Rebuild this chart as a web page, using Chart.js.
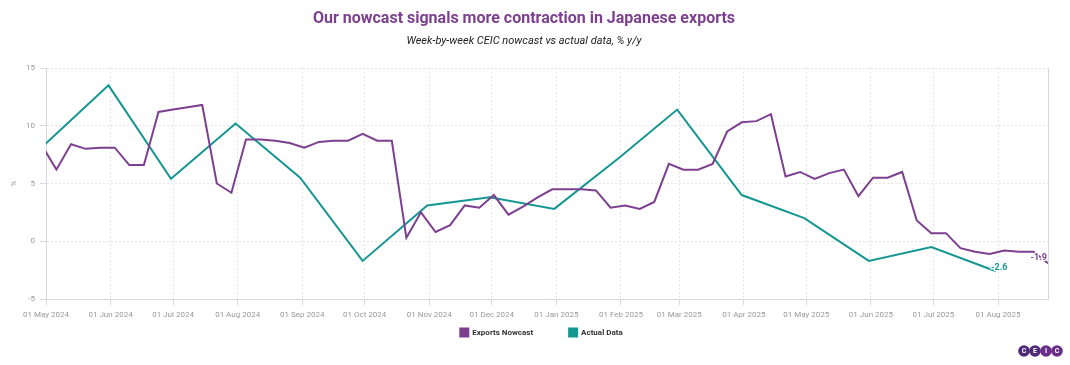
<!DOCTYPE html>
<html>
<head>
<meta charset="utf-8">
<script src="https://cdn.jsdelivr.net/npm/chart.js@4.4.1/dist/chart.umd.min.js"></script>
<style>
    html, body { margin: 0; padding: 0; background: #fff; }
    #wrap { width: 1070px; height: 365px; position: relative; }
</style>
</head>
<body>
<div id="wrap"><canvas id="exportsChart"></canvas></div>
<script>
// weekly nowcast (Mondays)
const nowcastDates = [
    '2024-04-29', '2024-05-06', '2024-05-13', '2024-05-20', '2024-05-27', '2024-06-03', '2024-06-10',
    '2024-06-17', '2024-06-24', '2024-07-01', '2024-07-08', '2024-07-15', '2024-07-22', '2024-07-29',
    '2024-08-05', '2024-08-12', '2024-08-19', '2024-08-26', '2024-09-02', '2024-09-09', '2024-09-16',
    '2024-09-23', '2024-09-30', '2024-10-07', '2024-10-14', '2024-10-21', '2024-10-28', '2024-11-04',
    '2024-11-11', '2024-11-18', '2024-11-25', '2024-12-02', '2024-12-09', '2024-12-16', '2024-12-23',
    '2024-12-30', '2025-01-06', '2025-01-13', '2025-01-20', '2025-01-27', '2025-02-03', '2025-02-10',
    '2025-02-17', '2025-02-24', '2025-03-03', '2025-03-10', '2025-03-17', '2025-03-24', '2025-03-31',
    '2025-04-07', '2025-04-14', '2025-04-21', '2025-04-28', '2025-05-05', '2025-05-12', '2025-05-19',
    '2025-05-26', '2025-06-02', '2025-06-09', '2025-06-16', '2025-06-23', '2025-06-30', '2025-07-07',
    '2025-07-14', '2025-07-21', '2025-07-28', '2025-08-04', '2025-08-11', '2025-08-18', '2025-08-25'
];
const nowcastValues = [
    8.3, 6.2, 8.4, 8.0, 8.1, 8.1, 6.6, 6.6, 11.2, 11.4,
    11.6, 11.8, 5.0, 4.2, 8.8, 8.8, 8.7, 8.5, 8.1, 8.6,
    8.7, 8.7, 9.3, 8.7, 8.7, 0.3, 2.5, 0.8, 1.4, 3.1,
    2.9, 4.0, 2.3, 3.0, 3.8, 4.5, 4.5, 4.5, 4.4, 2.9,
    3.1, 2.8, 3.4, 6.7, 6.2, 6.2, 6.7, 9.5, 10.3, 10.4,
    11.0, 5.6, 6.0, 5.4, 5.9, 6.2, 3.9, 5.5, 5.5, 6.0,
    1.8, 0.7, 0.7, -0.6, -0.9, -1.1, -0.8, -0.9, -0.9, -1.9
];

// monthly actual data (month end)
const actualDates = [
    '2024-04-30', '2024-05-31', '2024-06-30', '2024-07-31', '2024-08-31', '2024-09-30', '2024-10-31', '2024-11-30',
    '2024-12-31', '2025-01-31', '2025-02-28', '2025-03-31', '2025-04-30', '2025-05-31', '2025-06-30', '2025-07-31'
];
const actualValues = [8.3, 13.5, 5.4, 10.2, 5.5, -1.7, 3.1, 3.8, 2.8, 7.2, 11.4, 4.0, 2.0, -1.7, -0.5, -2.6];

const monthTicks = [
    '2024-05-01', '2024-06-01', '2024-07-01', '2024-08-01', '2024-09-01', '2024-10-01', '2024-11-01', '2024-12-01',
    '2025-01-01', '2025-02-01', '2025-03-01', '2025-04-01', '2025-05-01', '2025-06-01', '2025-07-01', '2025-08-01'
];
const monthNames = ['Jan', 'Feb', 'Mar', 'Apr', 'May', 'Jun', 'Jul', 'Aug', 'Sep', 'Oct', 'Nov', 'Dec'];

const PURPLE = '#7d3f8f';
const TEAL = '#149790';
const GRID = '#e6e6e6';
const AXIS = '#d5d8e0';
const TICK_TEXT = '#999999';

Chart.defaults.font.family = 'Roboto, "Open Sans", sans-serif';

function toPoints(dates, values) {
    return dates.map((d, i) => ({ x: Date.parse(d), y: values[i] }));
}

function formatTick(value) {
    const d = new Date(value);
    return '01 ' + monthNames[d.getUTCMonth()] + ' ' + d.getUTCFullYear();
}

// value label on last point of each series
const lastValueLabels = {
    id: 'lastValueLabels',
    afterDatasetsDraw(chart) {
        const ctx = chart.ctx;
        chart.data.datasets.forEach((ds, i) => {
            const meta = chart.getDatasetMeta(i);
            const pt = meta.data[meta.data.length - 1];
            const text = ds.data[ds.data.length - 1].y.toFixed(1);
            let x, y;
            ctx.save();
            ctx.font = 'bold 9px Roboto';
            ctx.textBaseline = 'middle';
            if (i === 0) {
                ctx.textAlign = 'right';
                x = pt.x - 1;
                y = pt.y - 5;
            } else {
                ctx.textAlign = 'left';
                x = pt.x - 5;
                y = pt.y - 4;
            }
            ctx.lineWidth = 2.5;
            ctx.strokeStyle = '#ffffff';
            ctx.strokeText(text, x, y);
            ctx.fillStyle = ds.borderColor;
            ctx.fillText(text, x, y);
            ctx.restore();
        });
    }
};

// right frame line + logo
const frameAndLogo = {
    id: 'frameAndLogo',
    afterDraw(chart) {
        const { ctx, chartArea } = chart;
        ctx.save();
        ctx.strokeStyle = AXIS;
        ctx.lineWidth = 1;
        ctx.beginPath();
        ctx.moveTo(chartArea.right + 0.5, chartArea.top);
        ctx.lineTo(chartArea.right + 0.5, chartArea.bottom);
        ctx.stroke();

        const letters = ['C', 'E', 'I', 'C'];
        const cx0 = 1024, cy = 351, r = 5.8;
        letters.forEach((l, i) => {
            ctx.beginPath();
            ctx.arc(cx0 + i * 11, cy, r, 0, Math.PI * 2);
            ctx.fillStyle = i < 2 ? '#4e2a78' : '#6a2e8a';
            ctx.fill();
        });
        ctx.font = 'bold 7px Roboto';
        ctx.fillStyle = '#ffffff';
        ctx.textAlign = 'center';
        ctx.textBaseline = 'middle';
        letters.forEach((l, i) => ctx.fillText(l, cx0 + i * 11, cy + 0.5));
        ctx.restore();
    }
};

// legend sits closer to the axis than Chart.js would place it
const legendPlacement = {
    id: 'legendPlacement',
    afterLayout(chart) {
        const lg = chart.legend;
        lg.top = 332.5 - 36 - 4;
        lg.bottom = lg.top + 60;
        lg.left -= 5.5;
        lg.right -= 5.5;
    }
};

const ctx = document.getElementById('exportsChart').getContext('2d');
const exportsChart = new Chart(ctx, {
    type: 'line',
    data: {
        datasets: [
            {
                label: 'Exports Nowcast',
                data: toPoints(nowcastDates, nowcastValues),
                borderColor: PURPLE,
                backgroundColor: PURPLE,
                borderWidth: 2,
                pointRadius: 0,
                tension: 0
            },
            {
                label: 'Actual Data',
                data: toPoints(actualDates, actualValues),
                borderColor: TEAL,
                backgroundColor: TEAL,
                borderWidth: 2,
                pointRadius: 0,
                tension: 0
            }
        ]
    },
    options: {
        responsive: true,
        maintainAspectRatio: false,
        animation: false,
        layout: { padding: { top: 0, left: 0, right: 22, bottom: 0 } },
        plugins: {
            title: {
                display: true,
                text: 'Our nowcast signals more contraction in Japanese exports',
                color: PURPLE,
                font: { size: 16, weight: 'bold' },
                padding: { top: 9.5, bottom: 0 }
            },
            subtitle: {
                display: true,
                text: 'Week-by-week CEIC nowcast vs actual data, % y/y',
                color: '#222222',
                font: { size: 11, style: 'italic' },
                padding: { top: 5.5, bottom: 20.6 }
            },
            legend: {
                position: 'bottom',
                fullSize: false,
                maxHeight: 20,
                labels: {
                    boxWidth: 8,
                    boxHeight: 8,
                    padding: 36,
                    color: '#333333',
                    font: { size: 8, weight: 'bold' }
                }
            },
            tooltip: { enabled: false }
        },
        scales: {
            x: {
                type: 'linear',
                min: Date.parse('2024-05-01'),
                max: Date.parse('2025-08-25'),
                afterBuildTicks: scale => {
                    scale.ticks = monthTicks.map(t => ({ value: Date.parse(t) }));
                },
                afterFit: scale => { scale.height = 46; },
                ticks: {
                    autoSkip: false,
                    maxRotation: 0,
                    minRotation: 0,
                    padding: 5,
                    color: TICK_TEXT,
                    font: { size: 8 },
                    callback: value => formatTick(value)
                },
                grid: {
                    color: GRID,
                    tickColor: AXIS,
                    tickLength: 6,
                    tickBorderDash: []
                },
                border: { color: AXIS, dash: [2, 2] }
            },
            y: {
                min: -5,
                max: 15,
                afterFit: scale => { scale.width = 46; },
                ticks: {
                    stepSize: 5,
                    padding: 5,
                    color: TICK_TEXT,
                    font: { size: 8 }
                },
                title: {
                    display: true,
                    text: '%',
                    color: TICK_TEXT,
                    font: { size: 8 },
                    padding: { top: 9, bottom: 0 }
                },
                grid: {
                    color: GRID,
                    tickColor: AXIS,
                    tickLength: 6,
                    tickBorderDash: []
                },
                border: { color: AXIS, dash: [2, 2] }
            }
        }
    },
    plugins: [lastValueLabels, frameAndLogo, legendPlacement]
});
</script>
</body>
</html>
